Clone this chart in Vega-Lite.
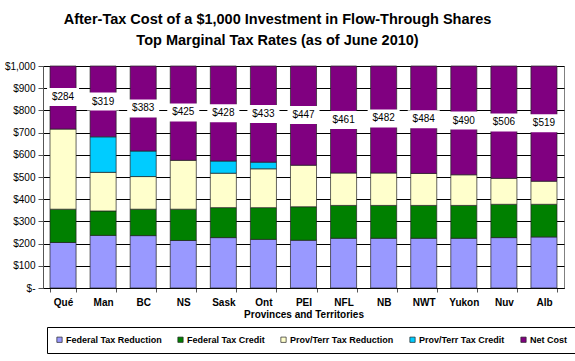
{
  "$schema": "https://vega.github.io/schema/vega-lite/v6.json",
  "autosize": {"type": "none"},
  "width": 521,
  "height": 222,
  "padding": {"left": 43, "top": 66, "right": 11, "bottom": 73},
  "background": "white",
  "config": {
    "font": "Liberation Sans",
    "view": {"stroke": "#808080", "strokeWidth": 1},
    "title": {"font": "Liberation Sans", "fontSize": 14.5, "fontWeight": "bold", "color": "black", "lineHeight": 21}
  },
  "title": {
    "text": ["After-Tax Cost of a $1,000 Investment in Flow-Through Shares", "Top Marginal Tax Rates (as of June 2010)"],
    "anchor": "middle",
    "frame": "group",
    "dx": -26,
    "offset": 13
  },
  "datasets": {
    "bars": [
      {"prov": "Qué", "component": "Federal Tax Reduction", "value": 205},
      {"prov": "Qué", "component": "Federal Tax Credit", "value": 150},
      {"prov": "Qué", "component": "Prov/Terr Tax Reduction", "value": 361},
      {"prov": "Qué", "component": "Net Cost", "value": 284},
      {"prov": "Man", "component": "Federal Tax Reduction", "value": 237},
      {"prov": "Man", "component": "Federal Tax Credit", "value": 110},
      {"prov": "Man", "component": "Prov/Terr Tax Reduction", "value": 174},
      {"prov": "Man", "component": "Prov/Terr Tax Credit", "value": 160},
      {"prov": "Man", "component": "Net Cost", "value": 319},
      {"prov": "BC", "component": "Federal Tax Reduction", "value": 236},
      {"prov": "BC", "component": "Federal Tax Credit", "value": 119},
      {"prov": "BC", "component": "Prov/Terr Tax Reduction", "value": 147},
      {"prov": "BC", "component": "Prov/Terr Tax Credit", "value": 115},
      {"prov": "BC", "component": "Net Cost", "value": 383},
      {"prov": "NS", "component": "Federal Tax Reduction", "value": 214},
      {"prov": "NS", "component": "Federal Tax Credit", "value": 141},
      {"prov": "NS", "component": "Prov/Terr Tax Reduction", "value": 220},
      {"prov": "NS", "component": "Net Cost", "value": 425},
      {"prov": "Sask", "component": "Federal Tax Reduction", "value": 227},
      {"prov": "Sask", "component": "Federal Tax Credit", "value": 135},
      {"prov": "Sask", "component": "Prov/Terr Tax Reduction", "value": 155},
      {"prov": "Sask", "component": "Prov/Terr Tax Credit", "value": 55},
      {"prov": "Sask", "component": "Net Cost", "value": 428},
      {"prov": "Ont", "component": "Federal Tax Reduction", "value": 219},
      {"prov": "Ont", "component": "Federal Tax Credit", "value": 143},
      {"prov": "Ont", "component": "Prov/Terr Tax Reduction", "value": 175},
      {"prov": "Ont", "component": "Prov/Terr Tax Credit", "value": 30},
      {"prov": "Ont", "component": "Net Cost", "value": 433},
      {"prov": "PEI", "component": "Federal Tax Reduction", "value": 215},
      {"prov": "PEI", "component": "Federal Tax Credit", "value": 151},
      {"prov": "PEI", "component": "Prov/Terr Tax Reduction", "value": 187},
      {"prov": "PEI", "component": "Net Cost", "value": 447},
      {"prov": "NFL", "component": "Federal Tax Reduction", "value": 224},
      {"prov": "NFL", "component": "Federal Tax Credit", "value": 148},
      {"prov": "NFL", "component": "Prov/Terr Tax Reduction", "value": 146},
      {"prov": "NFL", "component": "Net Cost", "value": 482},
      {"prov": "NB", "component": "Federal Tax Reduction", "value": 224},
      {"prov": "NB", "component": "Federal Tax Credit", "value": 148},
      {"prov": "NB", "component": "Prov/Terr Tax Reduction", "value": 146},
      {"prov": "NB", "component": "Net Cost", "value": 482},
      {"prov": "NWT", "component": "Federal Tax Reduction", "value": 224},
      {"prov": "NWT", "component": "Federal Tax Credit", "value": 148},
      {"prov": "NWT", "component": "Prov/Terr Tax Reduction", "value": 144},
      {"prov": "NWT", "component": "Net Cost", "value": 484},
      {"prov": "Yukon", "component": "Federal Tax Reduction", "value": 224},
      {"prov": "Yukon", "component": "Federal Tax Credit", "value": 148},
      {"prov": "Yukon", "component": "Prov/Terr Tax Reduction", "value": 138},
      {"prov": "Yukon", "component": "Net Cost", "value": 490},
      {"prov": "Nuv", "component": "Federal Tax Reduction", "value": 227},
      {"prov": "Nuv", "component": "Federal Tax Credit", "value": 150},
      {"prov": "Nuv", "component": "Prov/Terr Tax Reduction", "value": 117},
      {"prov": "Nuv", "component": "Net Cost", "value": 506},
      {"prov": "Alb", "component": "Federal Tax Reduction", "value": 230},
      {"prov": "Alb", "component": "Federal Tax Credit", "value": 147},
      {"prov": "Alb", "component": "Prov/Terr Tax Reduction", "value": 104},
      {"prov": "Alb", "component": "Net Cost", "value": 519}
    ],
    "labels": [
      {"prov": "Qué", "net": 284, "pos": 860},
      {"prov": "Man", "net": 319, "pos": 840},
      {"prov": "BC", "net": 383, "pos": 809},
      {"prov": "NS", "net": 425, "pos": 791},
      {"prov": "Sask", "net": 428, "pos": 787},
      {"prov": "Ont", "net": 433, "pos": 784},
      {"prov": "PEI", "net": 447, "pos": 779},
      {"prov": "NFL", "net": 461, "pos": 757},
      {"prov": "NB", "net": 482, "pos": 764},
      {"prov": "NWT", "net": 484, "pos": 760},
      {"prov": "Yukon", "net": 490, "pos": 754},
      {"prov": "Nuv", "net": 506, "pos": 746},
      {"prov": "Alb", "net": 519, "pos": 742}
    ]
  },
  "encoding": {
    "x": {
      "field": "prov",
      "type": "nominal",
      "sort": ["Qué", "Man", "BC", "NS", "Sask", "Ont", "PEI", "NFL", "NB", "NWT", "Yukon", "Nuv", "Alb"],
      "scale": {"paddingInner": 0.35, "paddingOuter": 0.175},
      "axis": {
        "title": "Provinces and Territories",
        "titleFont": "Liberation Sans",
        "titleFontSize": 10,
        "titleFontWeight": "bold",
        "titleColor": "black",
        "titlePadding": 2,
        "labelAngle": 0,
        "labelFont": "Liberation Sans",
        "labelFontSize": 10,
        "labelFontWeight": "bold",
        "labelColor": "black",
        "labelPadding": 5,
        "tickBand": "extent",
        "tickSize": 4,
        "tickColor": "#555",
        "domainColor": "black",
        "grid": false
      }
    }
  },
  "layer": [
    {
      "data": {"name": "bars"},
      "transform": [
        {"calculate": "indexof(['Federal Tax Reduction', 'Federal Tax Credit', 'Prov/Terr Tax Reduction', 'Prov/Terr Tax Credit', 'Net Cost'], datum.component)", "as": "stackRank"}
      ],
      "mark": {"type": "bar", "stroke": "#222", "strokeWidth": 0.7},
      "encoding": {
        "y": {
          "field": "value",
          "type": "quantitative",
          "stack": "zero",
          "scale": {"domain": [0, 1000], "nice": false},
          "axis": {
            "title": null,
            "values": [0, 100, 200, 300, 400, 500, 600, 700, 800, 900, 1000],
            "labelOverlap": false,
            "labelExpr": "datum.value == 0 ? '$-' : format(datum.value, '$,d')",
            "labelFont": "Liberation Sans",
            "labelFontSize": 10,
            "labelColor": "black",
            "labelPadding": 3,
            "tickSize": 5,
            "tickColor": "#555",
            "domainColor": "#555",
            "grid": true,
            "gridColor": "black",
            "gridWidth": 1
          }
        },
        "color": {
          "field": "component",
          "type": "nominal",
          "sort": ["Federal Tax Reduction", "Federal Tax Credit", "Prov/Terr Tax Reduction", "Prov/Terr Tax Credit", "Net Cost"],
          "scale": {
            "domain": ["Federal Tax Reduction", "Federal Tax Credit", "Prov/Terr Tax Reduction", "Prov/Terr Tax Credit", "Net Cost"],
            "range": ["#9999FF", "#008000", "#FFFFCC", "#00CCFF", "#800080"]
          },
          "legend": {
            "title": null,
            "orient": "none",
            "legendX": 4,
            "legendY": 261,
            "direction": "horizontal",
            "symbolType": "square",
            "symbolSize": 28,
            "symbolStrokeColor": "#222",
            "symbolStrokeWidth": 0.7,
            "symbolOffset": 0,
            "labelOffset": 2,
            "labelFont": "Liberation Sans",
            "labelFontSize": 9,
            "labelFontWeight": "bold",
            "labelColor": "black",
            "columnPadding": 14,
            "padding": 8,
            "strokeColor": "black",
            "fillColor": "white"
          }
        },
        "order": {"field": "stackRank", "type": "quantitative", "sort": "ascending"}
      }
    },
    {
      "data": {"name": "labels"},
      "mark": {"type": "tick", "color": "white", "opacity": 1, "thickness": 18, "size": 32},
      "encoding": {
        "y": {
          "field": "pos",
          "type": "quantitative",
          "axis": {
            "title": null,
            "values": [0, 100, 200, 300, 400, 500, 600, 700, 800, 900, 1000],
            "labelOverlap": false,
            "labelExpr": "datum.value == 0 ? '$-' : format(datum.value, '$,d')",
            "labelFont": "Liberation Sans",
            "labelFontSize": 10,
            "labelColor": "black",
            "labelPadding": 3,
            "tickSize": 5,
            "tickColor": "#555",
            "domainColor": "#555",
            "grid": true,
            "gridColor": "black",
            "gridWidth": 1
          }
        }
      }
    },
    {
      "data": {"name": "labels"},
      "mark": {"type": "text", "font": "Liberation Sans", "fontSize": 10, "color": "black", "baseline": "middle"},
      "encoding": {
        "y": {
          "field": "pos",
          "type": "quantitative",
          "axis": {
            "title": null,
            "values": [0, 100, 200, 300, 400, 500, 600, 700, 800, 900, 1000],
            "labelOverlap": false,
            "labelExpr": "datum.value == 0 ? '$-' : format(datum.value, '$,d')",
            "labelFont": "Liberation Sans",
            "labelFontSize": 10,
            "labelColor": "black",
            "labelPadding": 3,
            "tickSize": 5,
            "tickColor": "#555",
            "domainColor": "#555",
            "grid": true,
            "gridColor": "black",
            "gridWidth": 1
          }
        },
        "text": {"field": "net", "type": "quantitative", "format": "$d"}
      }
    }
  ]
}
